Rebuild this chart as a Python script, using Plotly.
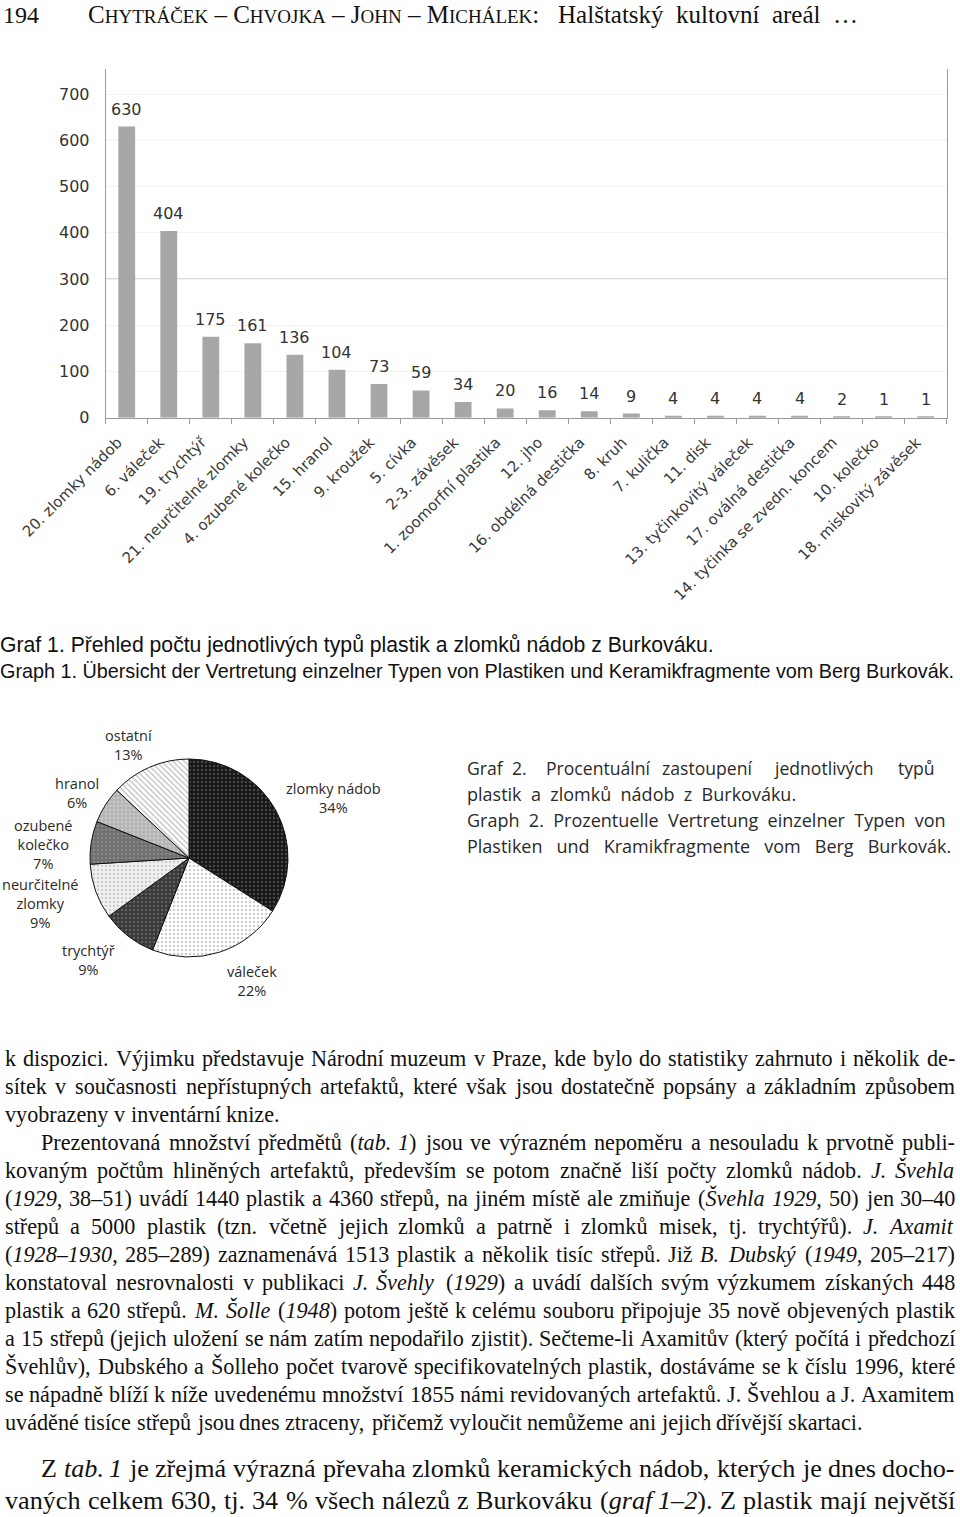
import unicodedata
import plotly.graph_objects as go

W, H = 960, 1517

# ---------------- data ----------------
categories = ["20. zlomky nádob", "6. váleček", "19. trychtýř", "21. neurčitelné zlomky",
              "4. ozubené kolečko", "15. hranol", "9. kroužek", "5. cívka", "2-3. závěsek",
              "1. zoomorfní plastika", "12. jho", "16. obdélná destička", "8. kruh",
              "7. kulička", "11. disk", "13. tyčinkovitý váleček", "17. oválná destička",
              "14. tyčinka se zvedn. koncem", "10. kolečko", "18. miskovitý závěsek"]
counts = [630, 404, 175, 161, 136, 104, 73, 59, 34, 20, 16, 14, 9, 4, 4, 4, 4, 2, 1, 1]
y_tick_values = [0, 100, 200, 300, 400, 500, 600, 700]

pie_labels = ["zlomky nádob", "váleček", "trychtýř", "neurčitelné zlomky",
              "ozubené kolečko", "hranol", "ostatní"]
pie_percent = [34, 22, 9, 9, 7, 6, 13]

# ---------------- helpers ----------------
def px(x):
    return x / W


def py(y):
    return 1 - y / H


SERIF = "Liberation Serif"
CHART_FONT = "DejaVu Sans"
CAP1_FONT = "Liberation Sans"
CAP2_FONT = "Open Sans"
NB = "\u00a0"

fig = go.Figure()

# ---------------- bar chart ----------------
fig.add_trace(go.Bar(
    x=categories, y=counts, width=0.4,
    marker=dict(color="#a7a7a7", line=dict(width=0)),
    showlegend=False, hoverinfo="skip", xaxis="x", yaxis="y"))

for c, v in zip(categories, counts):
    fig.add_annotation(x=c, y=v, xref="x", yref="y", text=str(v), showarrow=False,
                       yanchor="bottom", yshift=6,
                       font=dict(family=CHART_FONT, size=16, color="#333333"))

for gv in (300, 600):
    fig.add_shape(type="line", xref="x domain", x0=0, x1=1, yref="y", y0=gv, y1=gv,
                  line=dict(color="#a3a3a3", width=1), layer="below")

# ---------------- pie chart ----------------
pie_bg = ["#161616", "#ffffff", "#383838", "#f1f1f1", "#6f6f6f", "#b4b4b4", "#ffffff"]
pie_fg = ["#777777", "#9a9a9a", "#8a8a8a", "#a8a8a8", "#a0a0a0", "#dedede", "#7a7a7a"]
pie_shape = [".", ".", ".", ".", ".", ".", "\\"]
fig.add_trace(go.Pie(
    labels=pie_labels, values=pie_percent, sort=False, direction="clockwise", rotation=0,
    textinfo="none", hoverinfo="skip", showlegend=False,
    domain=dict(x=[px(90), px(288)], y=[py(957), py(759)]),
    marker=dict(colors=pie_bg, line=dict(color="#111111", width=1),
                pattern=dict(shape=pie_shape, fgcolor=pie_fg, bgcolor=pie_bg,
                             size=4, solidity=0.3, fillmode="overlay"))))

pie_label_lines = {
    "ostatní": ["ostatní"],
    "hranol": ["hranol"],
    "ozubené kolečko": ["ozubené", "kolečko"],
    "neurčitelné zlomky": ["neurčitelné", "zlomky"],
    "trychtýř": ["trychtýř"],
    "váleček": ["váleček"],
    "zlomky nádob": ["zlomky nádob"],
}
pie_label_pos = {  # top line centre (px)
    "ostatní": (128, 737), "hranol": (77, 785), "ozubené kolečko": (43, 828),
    "neurčitelné zlomky": (40, 887), "trychtýř": (88, 952), "váleček": (252, 973),
    "zlomky nádob": (333, 790),
}
for lab, pct in zip(pie_labels, pie_percent):
    lines = pie_label_lines[lab] + [f"{pct}%"]
    x0, y0 = pie_label_pos[lab]
    ymid = y0 + 16.5 * (len(lines) - 1) / 2
    fig.add_annotation(x=px(x0), y=py(ymid), xref="paper", yref="paper",
                       text="<br>".join(lines), showarrow=False, xanchor="center",
                       yanchor="middle", align="center", borderpad=0, borderwidth=0,
                       font=dict(family=CAP2_FONT, size=14.5, color="#2a2a2a"))

# ---------------- page text ----------------
_TW = {}
for chars, w in [(" ,.", 250), ("ijlt:;/", 278), ("frI()-[]!'", 333), ("sJ", 389),
                 ('"', 408), ("acez?", 444), ("bdghknopquvxy0123456789–*_", 500),
                 ("FPS", 556), ("+=<>", 564), ("ELTZ", 611), ("BCR", 667),
                 ("wADGHKNOQUVXY", 722), ("m&", 778), ("%", 833), ("M", 889),
                 ("W", 944), ("—", 1000)]:
    for ch in chars:
        _TW[ch] = w


def tw(s):
    tot = 0
    for ch in s:
        if ch in "{}":
            continue
        b = unicodedata.normalize("NFD", ch)[0]
        tot += _TW.get(b, 500)
    return tot / 1000.0


def conv(s):
    return s.replace("{", "<i>").replace("}", "</i>")


def add_text(text, x, y, family, size, color="#111111", anchor="left"):
    fig.add_annotation(x=px(x), y=py(y), xref="paper", yref="paper", text=text,
                       showarrow=False, xanchor=anchor, yanchor="middle", borderpad=0,
                       borderwidth=0, font=dict(family=family, size=size, color=color))


def add_line(text, y, x0, x1, fs, justify):
    words = text.split(" ")
    ws = [tw(w) * fs for w in words]
    if justify and len(words) > 1:
        gap = (x1 - x0 - sum(ws)) / (len(words) - 1)
    else:
        gap = 0.25 * fs
    x = x0
    for w, wd in zip(words, ws):
        add_text(conv(w), x, y, SERIF, fs)
        x += wd + gap


# header
def sc(word, small=19):
    return word[0] + f"<span style='font-size:{small}px'>{word[1:]}</span>"


add_text("194", 3, 15, SERIF, 24)
header = (sc("CHYTRÁČEK") + " – " + sc("CHVOJKA") + " – " + sc("JOHN") + " – " +
          sc("MICHÁLEK") + ":" + NB + NB + " Halštatský" + NB + " kultovní" + NB +
          " areál" + NB + " …")
add_text(header, 88, 15, SERIF, 25)

# graph 1 caption
add_text("Graf 1. Přehled počtu jednotlivých typů plastik a zlomků nádob z Burkováku.",
         0, 645, CAP1_FONT, 21.2)
add_text("Graph 1. Übersicht der Vertretung einzelner Typen von Plastiken und "
         "Keramikfragmente vom Berg Burkovák.", 0, 671, CAP1_FONT, 19.8)

# graph 2 caption
C2 = "#2a2a2a"
cap2_first = [("Graf", 467), ("2.", 512), ("Procentuální", 546), ("zastoupení", 662),
              ("jednotlivých", 774), ("typů", 898)]
for wd, xx in cap2_first:
    add_text(wd, xx, 768, CAP2_FONT, 17.6, C2)
add_text((" " + NB).join("plastik a zlomků nádob z Burkováku.".split(" ")),
         467, 794, CAP2_FONT, 18, C2)
add_text((" " + NB).join("Graph 2. Prozentuelle Vertretung einzelner Typen von".split(" ")),
         467, 820, CAP2_FONT, 18, C2)
add_text((" " + NB + NB).join("Plastiken und Kramikfragmente vom Berg Burkovák.".split(" ")),
         467, 846, CAP2_FONT, 18, C2)

# body text: (text, indent, justified)
body = [
    ("k dispozici. Výjimku představuje Národní muzeum v Praze, kde bylo do statistiky zahrnuto i několik de-", 0, True),
    ("sítek v současnosti nepřístupných artefaktů, které však jsou dostatečně popsány a základním způsobem", 0, True),
    ("vyobrazeny v inventární knize.", 0, False),
    ("Prezentovaná množství předmětů ({tab.} {1}) jsou ve výrazném nepoměru a nesouladu k prvotně publi-", 36, True),
    ("kovaným počtům hliněných artefaktů, především se potom značně liší počty zlomků nádob. {J.} {Švehla}", 0, True),
    ("({1929}, 38–51) uvádí 1440 plastik a 4360 střepů, na jiném místě ale zmiňuje ({Švehla} {1929}, 50) jen 30–40", 0, True),
    ("střepů a 5000 plastik (tzn. včetně jejich zlomků a patrně i zlomků misek, tj. trychtýřů). {J.} {Axamit}", 0, True),
    ("({1928–1930}, 285–289) zaznamenává 1513 plastik a několik tisíc střepů. Již {B.} {Dubský} ({1949}, 205–217)", 0, True),
    ("konstatoval nesrovnalosti v publikaci {J.} {Švehly} ({1929}) a uvádí dalších svým výzkumem získaných 448", 0, True),
    ("plastik a 620 střepů. {M.} {Šolle} ({1948}) potom ještě k celému souboru připojuje 35 nově objevených plastik", 0, True),
    ("a 15 střepů (jejich uložení se nám zatím nepodařilo zjistit). Sečteme-li Axamitův (který počítá i předchozí", 0, True),
    ("Švehlův), Dubského a Šolleho počet tvarově specifikovatelných plastik, dostáváme se k číslu 1996, které", 0, True),
    ("se nápadně blíží k níže uvedenému množství 1855 námi revidovaných artefaktů. J. Švehlou a J. Axamitem", 0, True),
    ("uváděné tisíce střepů jsou dnes ztraceny, přičemž vyloučit nemůžeme ani jejich dřívější skartaci.", 0, False),
]
X0, X1 = 5, 955
fits = [(X1 - X0 - ind) / tw(t) for t, ind, j in body if j]
fs_body = min(fits) * 0.995
for i, (t, ind, j) in enumerate(body):
    add_line(t, 1058 + 28 * i, X0 + ind, X1, fs_body, j)

tail = [
    ("Z {tab.} {1} je zřejmá výrazná převaha zlomků keramických nádob, kterých je dnes docho-", 36, True),
    ("vaných celkem 630, tj. 34 % všech nálezů z Burkováku ({graf} {1–2}). Z plastik mají největší", 0, True),
]
fits2 = [(X1 - X0 - ind) / tw(t) for t, ind, j in tail]
fs_tail = min(fits2) * 0.995
for i, (t, ind, j) in enumerate(tail):
    add_line(t, 1468 + 32 * i, X0 + ind, X1, fs_tail, j)

# ---------------- layout ----------------
fig.update_layout(
    width=W, height=H, margin=dict(l=0, r=0, t=0, b=0),
    paper_bgcolor="white", plot_bgcolor="white", showlegend=False,
    xaxis=dict(domain=[px(105.7), px(946.7)], anchor="y", type="category",
               range=[-0.5, len(categories) - 0.5], tickmode="linear", tick0=0, dtick=1,
               showline=True, linecolor="#9a9a9a", linewidth=1, ticks="outside", ticklen=5,
               tickcolor="#9a9a9a", tickson="boundaries", tickangle=-45, showgrid=False,
               tickfont=dict(family=CHART_FONT, size=15, color="#3a3a3a"),
               automargin=False, ticklabelstandoff=9, ticklabelshift=-9, fixedrange=True),
    yaxis=dict(domain=[py(417.7), py(69.3)], anchor="x", range=[0, 754],
               tickmode="array", tickvals=y_tick_values, showline=True, mirror=True,
               linecolor="#9a9a9a", linewidth=1, ticks="", showgrid=True,
               gridcolor="#f2f2f2", zeroline=False, ticklabelstandoff=12,
               tickfont=dict(family=CHART_FONT, size=16, color="#333333"),
               automargin=False, fixedrange=True),
)

fig.write_html("out.html")
